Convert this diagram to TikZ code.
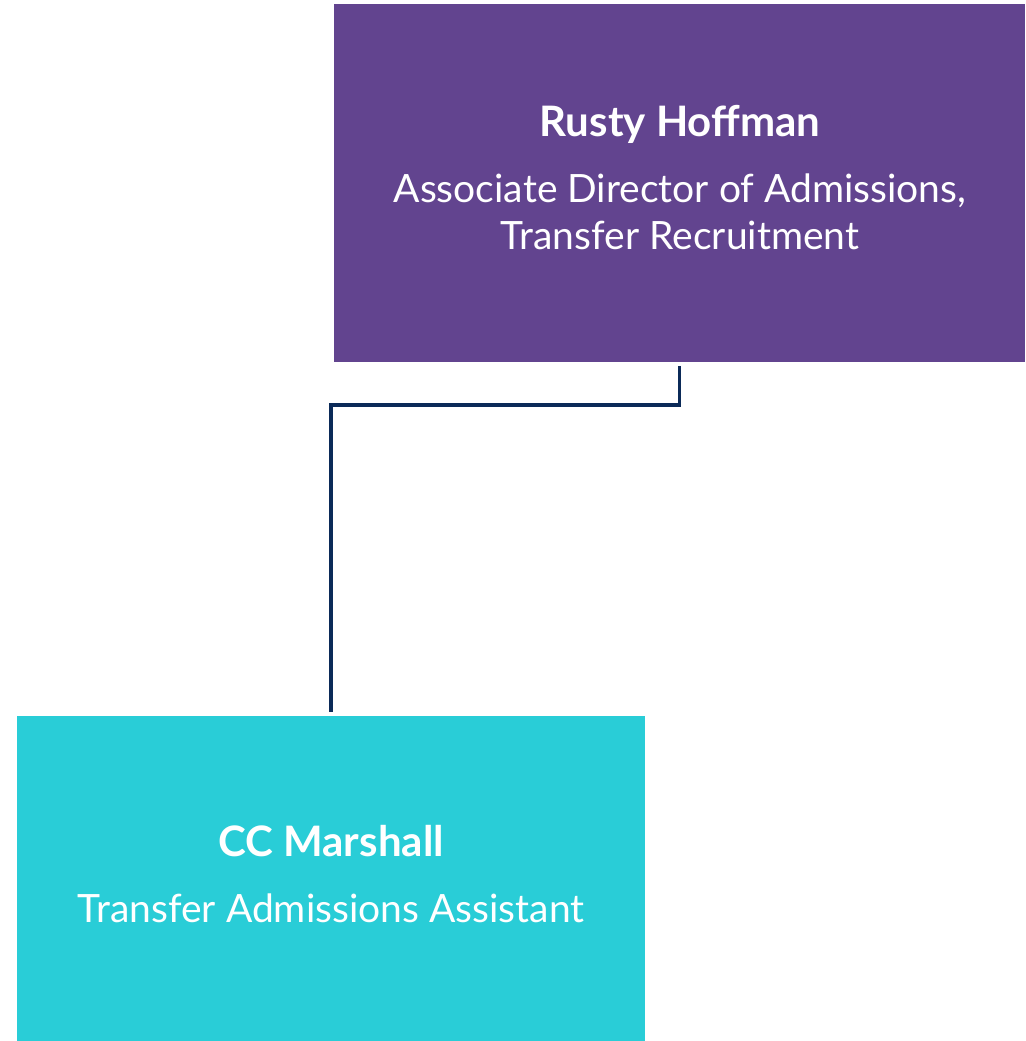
\documentclass[tikz,border=0pt]{standalone}
\usepackage{fontspec}
\setmainfont{Lato}
\definecolor{boss}{HTML}{62448F}
\definecolor{staff}{HTML}{29CDD7}
\definecolor{conncol}{HTML}{0B2A58}
\begin{document}
\begin{tikzpicture}[x=1pt,y=1pt,
  orgbox/.style={rectangle,inner sep=0pt,anchor=south west},
  persontext/.style={anchor=base,text=white,font=\fontsize{42}{47}\selectfont\bfseries},
  roletext/.style={anchor=base,text=white,font=\fontsize{39}{47}\selectfont,align=center},
  conn/.style={draw=conncol,line width=3.5pt}]
\useasboundingbox (0,0) rectangle (1025,1041);
\node[orgbox,fill=boss,minimum width=691pt,minimum height=358pt] (top) at (334,679) {};
\node[orgbox,fill=staff,minimum width=628pt,minimum height=325pt] (bot) at (17,0) {};
\node[persontext] (topname) at (680,904) {Rusty Hoffman};
\node[roletext] (toprole1) at (680,838) {Associate Director of Admissions,};
\node[roletext] (toprole2) at (680,791) {Transfer Recruitment};
\node[persontext] (botname) at (331,184) {CC Marshall};
\node[roletext] (botrole) at (331,118) {Transfer Admissions Assistant};
\draw[conn] ([yshift=-4pt]top.south) -- ++(0,-39) -| ([yshift=4pt]bot.north);
\end{tikzpicture}
\end{document}
